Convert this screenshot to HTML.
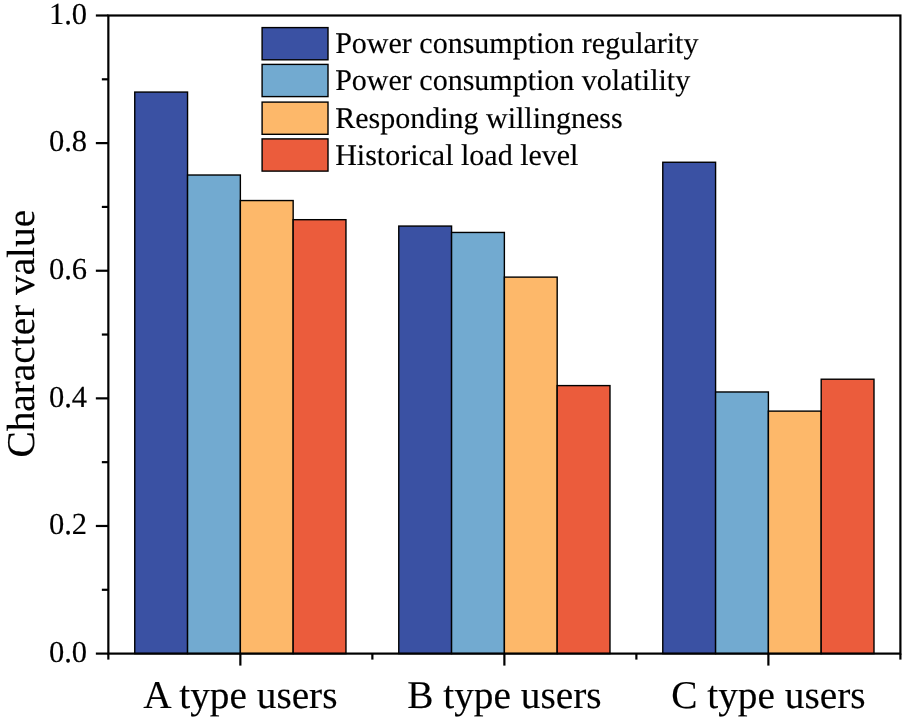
<!DOCTYPE html><html><head><meta charset="utf-8"><style>html,body{margin:0;padding:0;background:#fff;width:905px;height:722px;overflow:hidden}svg{display:block;will-change:transform}text{font-family:"Liberation Serif",serif;fill:#000;text-rendering:geometricPrecision;stroke:#000;stroke-width:0.15px}</style></head><body>
<svg width="905" height="722" viewBox="0 0 905 722">
<rect x="0" y="0" width="905" height="722" fill="#fff"/>
<rect x="134.75" y="92.07" width="52.80" height="561.53" fill="#3A51A3" stroke="#000" stroke-width="1.4"/>
<rect x="187.56" y="175.02" width="52.80" height="478.58" fill="#72AAD0" stroke="#000" stroke-width="1.4"/>
<rect x="240.36" y="200.55" width="52.80" height="453.05" fill="#FDB86A" stroke="#000" stroke-width="1.4"/>
<rect x="293.16" y="219.69" width="52.80" height="433.91" fill="#EB5C3C" stroke="#000" stroke-width="1.4"/>
<rect x="398.77" y="226.07" width="52.80" height="427.53" fill="#3A51A3" stroke="#000" stroke-width="1.4"/>
<rect x="451.57" y="232.45" width="52.80" height="421.15" fill="#72AAD0" stroke="#000" stroke-width="1.4"/>
<rect x="504.38" y="277.12" width="52.80" height="376.48" fill="#FDB86A" stroke="#000" stroke-width="1.4"/>
<rect x="557.18" y="385.60" width="52.80" height="268.00" fill="#EB5C3C" stroke="#000" stroke-width="1.4"/>
<rect x="662.78" y="162.26" width="52.80" height="491.34" fill="#3A51A3" stroke="#000" stroke-width="1.4"/>
<rect x="715.59" y="391.98" width="52.80" height="261.62" fill="#72AAD0" stroke="#000" stroke-width="1.4"/>
<rect x="768.39" y="411.12" width="52.80" height="242.48" fill="#FDB86A" stroke="#000" stroke-width="1.4"/>
<rect x="821.19" y="379.22" width="52.80" height="274.38" fill="#EB5C3C" stroke="#000" stroke-width="1.4"/>
<rect x="262.1" y="27.60" width="65.9" height="32.2" fill="#3A51A3" stroke="#000" stroke-width="1.4"/>
<text x="335.2" y="53.25" font-size="30">Power consumption regularity</text>
<rect x="262.1" y="64.40" width="65.9" height="32.2" fill="#72AAD0" stroke="#000" stroke-width="1.4"/>
<text x="335.2" y="90.40" font-size="30">Power consumption volatility</text>
<rect x="262.1" y="102.10" width="65.9" height="32.2" fill="#FDB86A" stroke="#000" stroke-width="1.4"/>
<text x="335.2" y="127.55" font-size="30">Responding willingness</text>
<rect x="262.1" y="138.90" width="65.9" height="32.2" fill="#EB5C3C" stroke="#000" stroke-width="1.4"/>
<text x="335.2" y="164.70" font-size="30">Historical load level</text>
<rect x="108.35" y="15.5" width="792.05" height="638.10" fill="none" stroke="#000" stroke-width="2.2"/>
<line x1="95.85" y1="653.60" x2="108.35" y2="653.60" stroke="#000" stroke-width="2.2"/>
<text x="87.0" y="661.90" font-size="30.5" text-anchor="end">0.0</text>
<line x1="101.85" y1="589.79" x2="108.35" y2="589.79" stroke="#000" stroke-width="2.2"/>
<line x1="95.85" y1="525.98" x2="108.35" y2="525.98" stroke="#000" stroke-width="2.2"/>
<text x="87.0" y="534.28" font-size="30.5" text-anchor="end">0.2</text>
<line x1="101.85" y1="462.17" x2="108.35" y2="462.17" stroke="#000" stroke-width="2.2"/>
<line x1="95.85" y1="398.36" x2="108.35" y2="398.36" stroke="#000" stroke-width="2.2"/>
<text x="87.0" y="406.66" font-size="30.5" text-anchor="end">0.4</text>
<line x1="101.85" y1="334.55" x2="108.35" y2="334.55" stroke="#000" stroke-width="2.2"/>
<line x1="95.85" y1="270.74" x2="108.35" y2="270.74" stroke="#000" stroke-width="2.2"/>
<text x="87.0" y="279.04" font-size="30.5" text-anchor="end">0.6</text>
<line x1="101.85" y1="206.93" x2="108.35" y2="206.93" stroke="#000" stroke-width="2.2"/>
<line x1="95.85" y1="143.12" x2="108.35" y2="143.12" stroke="#000" stroke-width="2.2"/>
<text x="87.0" y="151.42" font-size="30.5" text-anchor="end">0.8</text>
<line x1="101.85" y1="79.31" x2="108.35" y2="79.31" stroke="#000" stroke-width="2.2"/>
<line x1="95.85" y1="15.50" x2="108.35" y2="15.50" stroke="#000" stroke-width="2.2"/>
<text x="87.0" y="23.80" font-size="30.5" text-anchor="end">1.0</text>
<line x1="108.35" y1="653.6" x2="108.35" y2="659.60" stroke="#000" stroke-width="2.2"/>
<line x1="240.36" y1="653.6" x2="240.36" y2="665.60" stroke="#000" stroke-width="2.2"/>
<line x1="372.37" y1="653.6" x2="372.37" y2="659.60" stroke="#000" stroke-width="2.2"/>
<line x1="504.38" y1="653.6" x2="504.38" y2="665.60" stroke="#000" stroke-width="2.2"/>
<line x1="636.38" y1="653.6" x2="636.38" y2="659.60" stroke="#000" stroke-width="2.2"/>
<line x1="768.39" y1="653.6" x2="768.39" y2="665.60" stroke="#000" stroke-width="2.2"/>
<line x1="900.40" y1="653.6" x2="900.40" y2="659.60" stroke="#000" stroke-width="2.2"/>
<text x="240.36" y="708.0" font-size="39.3" text-anchor="middle">A type users</text>
<text x="504.38" y="708.0" font-size="39.3" text-anchor="middle">B type users</text>
<text x="768.39" y="708.0" font-size="39.3" text-anchor="middle">C type users</text>
<text transform="translate(34,333.75) rotate(-90)" font-size="39.3" text-anchor="middle">Character value</text>
</svg></body></html>
